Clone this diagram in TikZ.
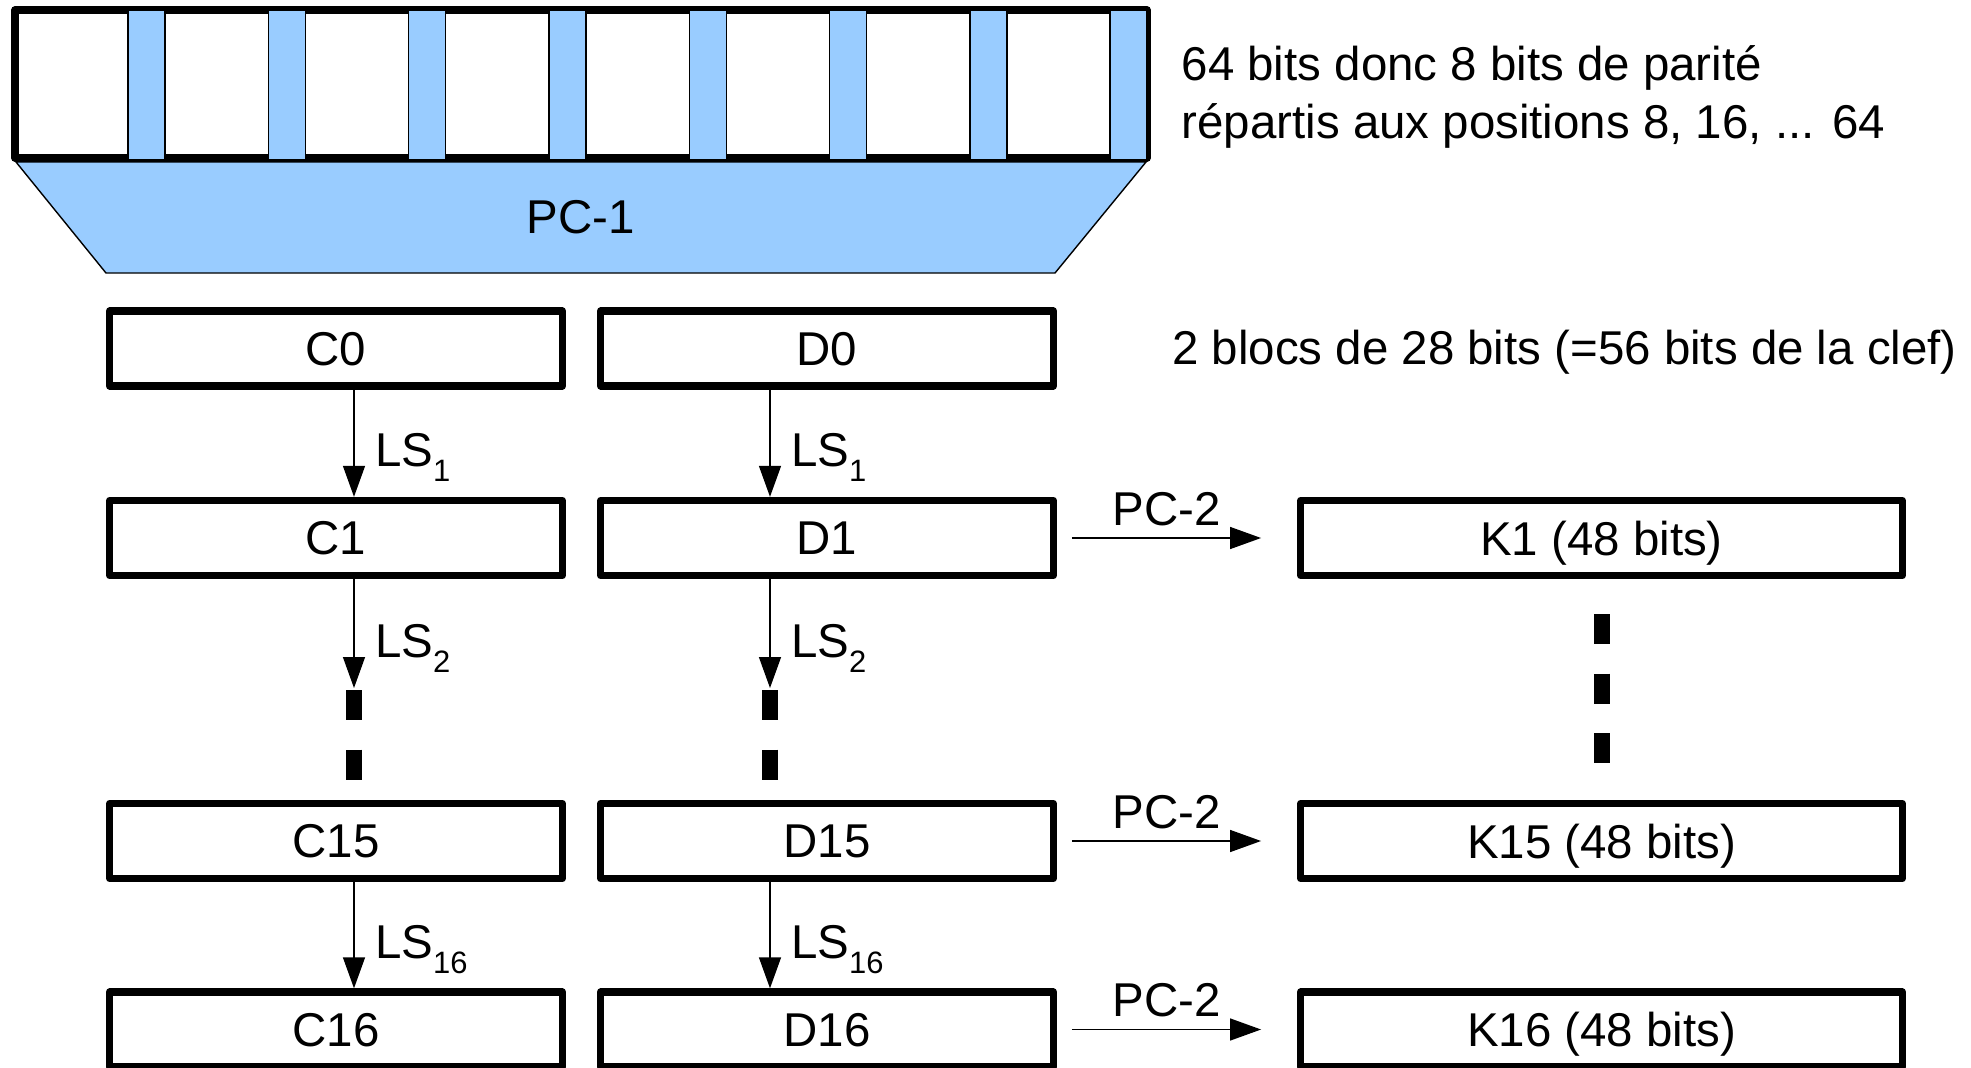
\documentclass[tikz,border=0pt]{standalone}
\usepackage{fontspec}
\setmainfont{Liberation Sans}
\usetikzlibrary{arrows.meta}
\definecolor{parite}{HTML}{99CCFF}
\newcommand\lsn[1]{LS\raisebox{-.32em}{\fontsize{8.8}{8.8}\selectfont #1}}

\begin{document}
\begin{tikzpicture}[
    font=\fontsize{13.5}{16.5}\selectfont,
    bloc/.style={draw, line width=2.1pt, line join=round, minimum width=4.525cm,
      minimum height=0.75cm, text depth=0pt, inner sep=0pt},
    clef/.style={bloc, minimum width=6.015cm},
    fleche/.style={line width=0.4pt, -{Triangle[length=0.31cm,width=0.22cm]}},
    lslabel/.style={anchor=base west, inner sep=0pt, xshift=0.205cm, yshift=-0.235cm},
    pclabel/.style={anchor=base, inner sep=0pt, yshift=0.13cm},
    suite/.style={line width=0.16cm, dash pattern=on 0.3cm off 0.295cm}
  ]
  \useasboundingbox (0,0) rectangle (19.71,-10.68);
  \clip (0,0) rectangle (19.71,-10.68);

  % clef de 64 bits, PC-1
  \draw[fill=parite, line width=0.4pt] (0.16,-1.62) -- (11.46,-1.62) -- (10.55,-2.73)
    -- (1.06,-2.73) -- cycle;
  \node (PC1) at (5.81,-2.175) {PC-1};
  \draw[line width=2.1pt, line join=round] (0.15,-0.10) rectangle (11.47,-1.58);
  \foreach \i in {0,...,7}
    \draw[fill=parite, line width=0.4pt] (1.28+1.403*\i,-0.10) rectangle ++(0.37,-1.50);
  \node[anchor=north west, align=left, inner sep=0pt] (txt64) at (11.81,-0.45)
    {64 bits donc 8 bits de parité\\répartis aux positions 8, 16, ... 64};

  \node[bloc] (C0) at (3.36,-3.485) {C0};
  \node[bloc] (D0) at (8.27,-3.485) {D0};
  \node[anchor=base west, inner sep=0pt] (txt56) at (11.715,-3.64)
    {2 blocs de 28 bits (=56 bits de la clef)};

  \node[bloc] (C1) at (3.36,-5.38) {C1};
  \node[bloc] (D1) at (8.27,-5.38) {D1};
  \node[clef] (K1) at (16.015,-5.38) {K1 (48 bits)};

  \node[bloc] (C15) at (3.36,-8.41) {C15};
  \node[bloc] (D15) at (8.27,-8.41) {D15};
  \node[clef] (K15) at (16.015,-8.41) {K15 (48 bits)};

  \node[bloc] (C16) at (3.36,-10.295) {C16};
  \node[bloc] (D16) at (8.27,-10.295) {D16};
  \node[clef] (K16) at (16.015,-10.295) {K16 (48 bits)};

  \coordinate (c2) at (3.54,-6.88);
  \coordinate (d2) at (7.70,-6.88);

  % decalages
  \draw[fleche] (C0.south -| c2) -- (C1.north -| c2) node[lslabel, pos=.5] {\lsn{1}};
  \draw[fleche] (D0.south -| d2) -- (D1.north -| d2) node[lslabel, pos=.5] {\lsn{1}};
  \draw[fleche] (C1.south -| c2) -- (c2) node[lslabel, pos=.5] {\lsn{2}};
  \draw[fleche] (D1.south -| d2) -- (d2) node[lslabel, pos=.5] {\lsn{2}};
  \draw[suite, shorten <=0.02cm] (c2) -- (C15.north -| c2);
  \draw[suite, shorten <=0.02cm] (d2) -- (D15.north -| d2);
  \draw[fleche] (C15.south -| c2) -- (C16.north -| c2) node[lslabel, pos=.5] {\lsn{16}};
  \draw[fleche] (D15.south -| d2) -- (D16.north -| d2) node[lslabel, pos=.5] {\lsn{16}};

  % sous-clefs
  \foreach \n in {1,15,16}
    \draw[fleche] ([xshift=0.15cm]D\n.east) -- ([xshift=-0.36cm]K\n.west)
      node[pclabel, pos=.5] {PC-2};
  \draw[suite, shorten <=0.35cm, shorten >=0.37cm] (K1.south) -- (K15.north);
\end{tikzpicture}
\end{document}
